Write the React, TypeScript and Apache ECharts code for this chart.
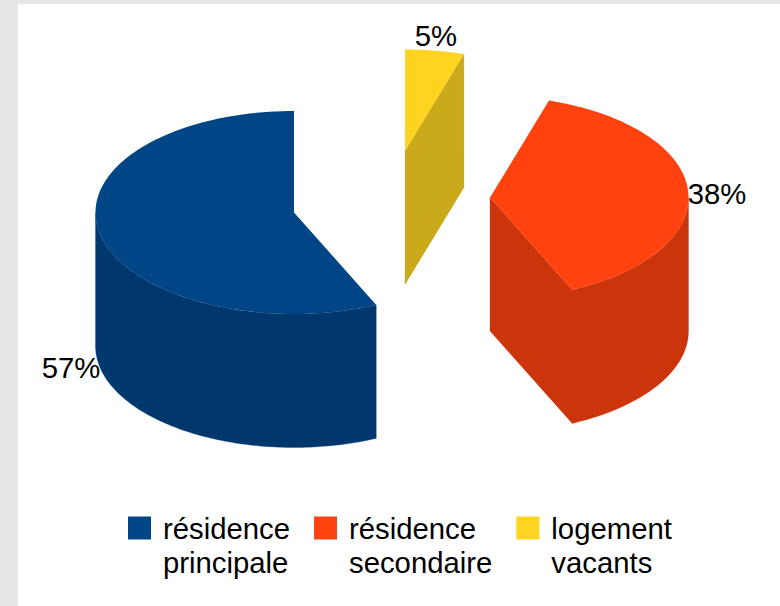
import React, { useEffect, useRef } from "react";
import * as echarts from "echarts";

const categories = ["résidence\nprincipale", "résidence\nsecondaire", "logement\nvacants"];
const shares = [56.8, 38.4, 4.8];
const topColors = ["#004586", "#ff420e", "#ffd320"];
const wallColors = ["#00386d", "#cc350b", "#caa91a"];

// exploded slice centres and label anchors, in page pixels
const centreX = [294, 490, 405];
const centreY = [212.5, 197.5, 151];
const labelX = [71, 717, 436];
const labelY = [367, 193, 35];

const RX = 198.5;
const RY = 101.5;
const DEPTH = 133.5;
const FONT = "Liberation Sans, Arial, sans-serif";
const FONT_SIZE = 29.3;
const total = shares.reduce((a, b) => a + b, 0);

function point(cx: number, cy: number, deg: number): number[] {
  // counter-clockwise from 12 o'clock
  const r = (deg * Math.PI) / 180;
  return [cx - RX * Math.sin(r), cy - RY * Math.cos(r)];
}

function arc(cx: number, cy: number, a0: number, a1: number): number[][] {
  const pts: number[][] = [];
  const n = Math.max(2, Math.ceil(Math.abs(a1 - a0)));
  for (let i = 0; i <= n; i++) pts.push(point(cx, cy, a0 + ((a1 - a0) * i) / n));
  return pts;
}

function down(pts: number[][]): number[][] {
  return pts.map(([x, y]) => [x, y + DEPTH]);
}

function renderSlice(index: number) {
  return (_params: any, api: any) => {
    const value = api.value(0);
    const before = shares.slice(0, index).reduce((a, b) => a + b, 0);
    const a0 = (before / total) * 360;
    const a1 = a0 + (value / total) * 360;
    const cx = centreX[index];
    const cy = centreY[index];
    const wall = wallColors[index];
    const children: any[] = [];
    const sin = (d: number) => Math.sin((d * Math.PI) / 180);

    // visible wall: start cut, front part of the curved wall, end cut
    const chain: number[][] = [];
    if (sin(a0) < -1e-6) chain.push([cx, cy], point(cx, cy, a0));
    const f0 = Math.max(a0, 90);
    const f1 = Math.min(a1, 270);
    if (f1 > f0) chain.push(...arc(cx, cy, f0, f1));
    if (sin(a1) > 1e-6) chain.push(point(cx, cy, a1), [cx, cy]);
    if (chain.length) {
      children.push({
        type: "polygon",
        shape: { points: [...chain, ...down(chain).reverse()] },
        style: { fill: wall, stroke: wall, lineWidth: 0.3 },
      });
    }
    // top face
    children.push({
      type: "polygon",
      shape: { points: [[cx, cy], ...arc(cx, cy, a0, a1)] },
      style: { fill: topColors[index] },
    });
    children.push({
      type: "text",
      style: {
        text: `${Math.round(value)}%`,
        x: labelX[index],
        y: labelY[index],
        align: "center",
        verticalAlign: "middle",
        fill: "#000000",
        font: `${FONT_SIZE}px ${FONT}`,
      },
    });
    return { type: "group", children };
  };
}

export default function App() {
  const ref = useRef<HTMLDivElement>(null);
  useEffect(() => {
    const chart = echarts.init(ref.current!, undefined, { renderer: "svg" });
    chart.setOption({
      animation: false,
      backgroundColor: "#e6e6e6",
      graphic: [
        {
          type: "rect",
          z: -1,
          shape: { x: 18, y: 4, width: 762, height: 602 },
          style: { fill: "#ffffff" },
        },
      ],
      legend: {
        left: 123,
        top: 472,
        orient: "horizontal",
        selectedMode: false,
        itemWidth: 23,
        itemHeight: 23,
        itemGap: 24,
        icon: "rect",
        data: categories,
        formatter: (name: string) =>
          "\n" + name.split("\n").map((line) => `{t|${line}}`).join("\n"),
        textStyle: {
          fontFamily: FONT,
          fontSize: FONT_SIZE,
          color: "#000000",
          lineHeight: 34,
          rich: {
            t: {
              fontFamily: FONT,
              fontSize: FONT_SIZE,
              color: "#000000",
              lineHeight: 34,
              padding: [0, 0, 0, 7],
            },
          },
        },
      },
      series: categories.map((name, i) => ({
        type: "custom",
        name,
        coordinateSystem: "none",
        silent: true,
        itemStyle: { color: topColors[i] },
        data: [[shares[i]]],
        renderItem: renderSlice(i),
      })),
    });
    return () => chart.dispose();
  }, []);
  return (
    <div
      ref={ref}
      style={{ position: "fixed", left: 0, top: 0, width: 780, height: 606 }}
    />
  );
}
